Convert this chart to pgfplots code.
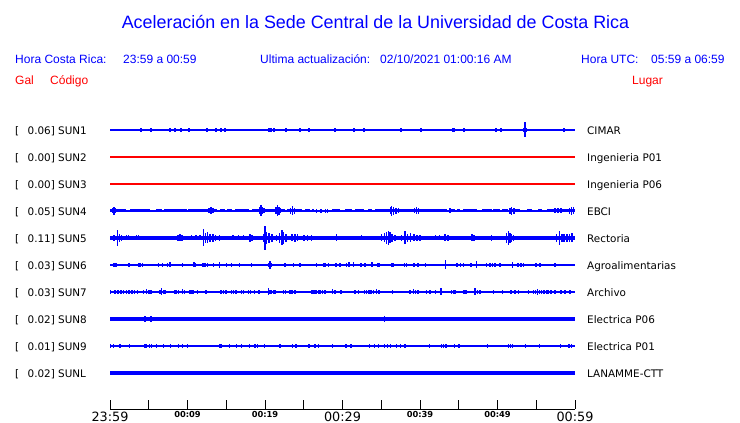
\documentclass[border=0pt]{standalone}
\usepackage{pgfplots}
\usepackage{pgfplotstable}
\pgfplotsset{compat=1.18}
\usepackage{fontspec}
\setmainfont{DejaVu Sans}
\newfontfamily\arial{Liberation Sans}
\definecolor{pblue}{RGB}{0,0,255}
\definecolor{pred}{RGB}{255,0,0}
\newcommand{\tlbig}{\fontsize{12.8}{13}\selectfont}
\newcommand{\tlsm}{\fontsize{8.3}{9}\selectfont\bfseries}

\pgfplotsset{
  spk/.style={draw=none, mark=none, forget plot, error bars/.cd, y dir=both, y explicit, error mark=none, error bar style={draw=pblue, solid, line width=#1}},
  seg/.style={draw=none, mark=none, forget plot, error bars/.cd, x dir=both, x explicit, error mark=none, error bar style={draw=pblue, solid, line width=#1}},
}

% SUN1 spikes: time (min), half amplitude (px)
\pgfplotstableread{
t a
4.0 1.6
5.29 1.6
7.74 1.6
8.39 2.2
9.16 2
10.19 2
12.52 2
13.68 2
14.32 2.2
14.84 2
20.52 2
20.77 2
21.16 2
22.71 2.2
24.52 2
25.68 2
29.03 1.6
31.48 2
32.77 2
37.55 1.6
40.13 2
44.26 2
44.39 2
45.68 2
49.81 2
50.45 2
53.4 2.2
53.55 7.5
53.7 2.2
58.58 2
}\sunAspk

% SUN4 thick segments
\pgfplotstableread{
t0 t1
0 2.03
2.58 5.16
5.9 6.75
7.0 9.9
10.1 13.77
14.19 14.84
15.06 15.78
16.13 17.94
18.28 21.29
21.72 22.58
22.8 24.73
25.16 25.81
26.03 26.36
28.6 29.68
30.32 31.19
31.61 32.77
33.33 33.77
34.19 43.45
43.87 44.52
44.74 45.16
45.59 47.32
47.96 49.25
49.46 50.32
50.54 51.39
51.83 52.9
53.76 54.41
55.26 55.7
56.35 60
}\sunDseg
\pgfplotstableread{
t a
0.4 2.5
0.52 4
0.7 2.5
12.8 2.5
13.03 3.5
13.3 2.5
19.3 3.5
19.48 5.5
19.7 3.5
19.9 2.5
21.4 3.5
21.59 5.5
21.8 4
22.0 2.5
23.3 3
23.53 4.5
23.8 3
26.67 1.8
27.23 1.8
27.83 1.8
28.09 1.8
36.2 3.5
36.35 5
36.6 4
36.9 3
37.2 2.5
39.3 2.5
39.57 3.5
39.8 3
43.87 2.5
51.6 3
51.83 4
52.1 3
57.4 2.5
57.8 2.5
58.2 2.5
59.3 3
59.57 4
59.8 3.5
}\sunDspk

% SUN5 spikes
\pgfplotstableread{
t a
0.5 3
0.94 8
1.2 4
1.5 3
2.1 2.5
2.4 2.5
3.4 2.5
3.7 2.5
5.0 2
6.3 2
7.1 2
7.9 2
8.8 3
9.03 3.5
9.3 3
10.5 2.5
11.1 2.5
11.6 2.5
12.09 8.5
12.3 5
12.6 5.5
12.9 4
13.3 4
13.6 3
14.1 3
15.9 2.5
16.6 2.5
17.2 2.5
18.06 4
18.3 3
19.8 4
20.0 12
20.2 6
20.5 5
20.9 4
21.5 3
21.9 5
22.19 7.5
22.4 6
22.7 4
23.5 3.5
23.87 4
24.2 3.5
25.0 3
25.5 3
26.0 3
29.25 3.5
30.97 2
31.61 2
32.47 2.5
32.9 2
33.98 2
35.05 3.5
35.4 4.5
35.7 6
35.91 7.3
36.1 5.5
36.4 4
36.77 3
37.63 3
38.06 6.5
38.4 4
38.8 4.5
39.2 3.5
39.6 3
40.0 3
42.0 2.5
42.5 2.5
43.23 3.5
43.6 3
44.8 2
46.7 3.5
47.0 3
49.25 3
51.18 5
51.4 6.7
51.6 5
51.8 4
52.04 3
54.0 2
55.4 2
57.63 4
57.98 7
58.3 4
58.6 4
59.0 4
59.3 4
59.6 4.5
}\sunEspk

% SUN6 spikes
\pgfplotstableread{
t a
0.5 1.8
0.8 1.8
2.45 1.8
3.66 1.8
3.9 2
4.17 1.8
6.24 1.8
6.75 1.8
7.44 2
7.78 2.5
9.33 1.8
10.8 2.5
11.05 1.8
11.91 1.8
12.1 1.8
12.34 1.8
12.6 1.8
13.33 1.8
14.15 3
15.01 1.6
15.7 1.6
16.69 1.6
18.28 1.8
20.5 2
20.65 4
20.8 2
22.58 1.8
23.66 1.8
24.52 1.8
26.67 1.8
27.53 2
27.74 2
28.17 1.8
29.16 1.8
29.68 1.6
30.54 2
30.84 2.5
31.4 2.5
32.39 1.6
32.9 1.8
33.77 2.5
34.54 1.8
34.71 1.8
36.35 1.8
36.6 1.8
37.98 2
38.28 2
39.19 1.8
39.78 1.8
40.73 1.8
43.27 4.5
44.81 1.8
45.25 1.8
45.59 2
46.58 1.8
47.31 3.5
48.6 1.8
49.03 2
49.35 2
49.68 2
50.32 1.8
51.91 3
52.68 2
53.0 2
53.33 2
54.93 1.8
55.48 1.8
57.42 1.8
}\sunFspk

% SUN7 spikes
\pgfplotstableread{
t a
0.09 1.8
0.65 2
1.0 2
1.42 2
1.72 1.6
2.15 1.6
2.45 1.8
2.8 1.8
3.14 1.8
3.53 1.6
4.3 1.6
4.73 2.5
5.03 2
5.29 1.8
6.45 2
6.65 3.5
6.88 2
7.1 1.6
8.39 2
8.6 2
8.82 2
9.33 2.5
9.59 2
10.32 1.8
10.55 1.8
10.75 1.8
11.31 1.6
12.39 1.6
14.32 1.6
14.62 1.6
14.97 1.8
15.7 1.8
15.95 1.8
16.22 1.8
16.99 1.8
17.2 1.8
17.85 1.6
18.15 1.8
18.62 1.6
19.23 1.6
20.43 3.5
20.65 2
20.86 2
21.1 2
21.29 1.8
22.41 2
22.67 2
23.23 2
23.5 2
23.87 1.8
26.03 2
26.3 2
26.6 2
26.88 2
27.1 1.8
27.4 1.8
27.74 1.8
28.73 2.5
29.03 2
29.81 1.6
31.61 1.6
32.04 1.6
32.82 1.8
33.1 1.8
33.4 1.8
33.7 1.8
34.0 1.8
34.41 2.5
34.71 1.8
36.43 1.8
38.71 1.6
39.14 2.5
39.4 2
39.78 2
40.86 2
41.29 2
42.02 1.6
42.71 3.5
44.09 1.8
44.3 1.8
44.52 1.8
45.59 1.8
45.8 1.8
46.02 1.8
47.1 3.5
47.4 2
47.74 1.8
49.46 1.6
50.62 1.6
51.74 1.6
52.26 1.6
52.69 1.6
53.98 1.8
54.62 2
54.9 2
55.14 3
55.4 2
55.7 2
56.0 2
56.35 2
56.56 1.8
56.9 1.8
57.42 1.8
58.19 1.6
58.71 1.6
59.35 1.6
}\sunGspk

% SUN8 spikes
\pgfplotstableread{
t a
4.52 2.7
5.29 2.7
35.4 2.7
}\sunHspk

% SUN9 spikes
\pgfplotstableread{
t a
0.09 2
0.43 1.8
1.29 1.8
2.49 1.8
4.52 1.8
4.73 1.8
5.08 1.8
5.38 1.8
6.02 1.8
6.88 2
7.83 1.8
8.82 1.8
9.38 1.8
10.02 1.8
14.11 2
14.32 2
15.4 1.8
16.34 2
16.99 1.8
17.98 1.8
18.71 1.8
19.01 1.8
19.91 1.8
21.94 1.8
23.57 1.8
24.0 1.8
25.68 1.8
26.45 1.8
26.88 1.8
28.73 1.8
30.45 1.8
31.1 1.8
33.46 1.8
34.11 1.8
34.62 1.8
35.4 1.8
35.83 1.8
36.22 1.8
36.99 1.8
37.5 2
38.06 1.8
41.2 1.8
42.8 1.8
43.0 1.8
43.35 1.8
44.43 1.8
45.03 1.8
48.73 1.8
51.4 1.8
51.7 1.8
51.96 1.8
53.64 1.8
55.4 1.8
58.15 1.8
59.23 1.8
59.57 1.8
}\sunIspk

% SUNL spikes
\pgfplotstableread{
t a
9.81 2.3
13.85 2.3
40.95 2.3
}\sunLspk

\begin{document}
\begin{tikzpicture}[x=1pt,y=1pt]
\path (0,0) rectangle (740,423);

% title and header
\node[anchor=base, inner sep=0, text=pblue, font={\arial\fontsize{17.9}{19}\selectfont}] at (375.5,394) {Aceleración en la Sede Central de la Universidad de Costa Rica};
\begin{scope}[every node/.style={anchor=base west, inner sep=0, text=pblue, font={\arial\fontsize{12}{13}\selectfont}}]
\node at (15,359) {Hora Costa Rica:};
\node at (123,359) {23:59 a 00:59};
\node at (260,359) {Ultima actualización:};
\node at (380,359) {02/10/2021 01:00:16 AM};
\node at (581,359) {Hora UTC:};
\node at (651,359) {05:59 a 06:59};
\node[text=pred] at (15,338) {Gal};
\node[text=pred] at (50,338) {Código};
\node[text=pred] at (632,338) {Lugar};
\end{scope}

% station labels
\begin{scope}[every node/.style={anchor=base west, inner sep=0, text=black, font={\fontsize{10.4}{11}\selectfont}}]
\foreach \val/\code/\place [count=\k from 0] in {0.06/SUN1/CIMAR, 0.00/SUN2/Ingenieria P01, 0.00/SUN3/Ingenieria P06, 0.05/SUN4/EBCI, 0.11/SUN5/Rectoria, 0.03/SUN6/Agroalimentarias, 0.03/SUN7/Archivo, 0.02/SUN8/Electrica P06, 0.01/SUN9/Electrica P01, 0.02/SUNL/LANAMME-CTT}{
  \node at (15,{288.5-27*\k}) {[};
  \node at (27.5,{288.5-27*\k}) {\val] \code};
  \node at (587,{288.5-27*\k}) {\place};
}
\end{scope}

\begin{axis}[
  at={(110pt,14pt)}, anchor=south west,
  scale only axis, width=465pt, height=294pt,
  xmin=0, xmax=60, ymin=0, ymax=294,
  axis y line=none, axis x line=bottom,
  x axis line style={-, black, line width=0.9pt},
  xtick={0,5,...,60}, ytick=\empty,
  tick align=inside, major tick length=9pt,
  xtick style={black, line width=0.9pt},
  xticklabels={{\tlbig 23:59},{},{\tlsm 00:09},{},{\tlsm 00:19},{},{\tlbig 00:29},{},{\tlsm 00:39},{},{\tlsm 00:49},{},{\tlbig 00:59}},
  xticklabel style={anchor=north, inner sep=0pt, yshift=-2.5pt, text=black},
  clip=false,
]
% baselines
\addplot[pblue, line width=1.1pt] coordinates {(0,279) (60,279)};
\addplot[pred, line width=1.1pt] coordinates {(0,252) (60,252)};
\addplot[pred, line width=1.1pt] coordinates {(0,225) (60,225)};
\addplot[pblue, line width=1.1pt] coordinates {(0,198) (60,198)};
\addplot[pblue, line width=3.6pt] coordinates {(0,171) (60,171)};
\addplot[pblue, line width=1.1pt] coordinates {(0,144) (60,144)};
\addplot[pblue, line width=1.1pt] coordinates {(0,117) (60,117)};
\addplot[pblue, line width=3.4pt] coordinates {(0,90) (60,90)};
\addplot[pblue, line width=1.1pt] coordinates {(0,63) (60,63)};
\addplot[pblue, line width=3.4pt] coordinates {(0,36) (60,36)};
% SUN1
\addplot[spk=1.3pt] table[x=t, y expr=279, y error=a] {\sunAspk};
% SUN4
\addplot[seg=3pt] table[x expr={(\thisrow{t0}+\thisrow{t1})/2}, y expr=198, x error expr={(\thisrow{t1}-\thisrow{t0})/2}] {\sunDseg};
\addplot[spk=1.5pt] table[x=t, y expr=198, y error=a] {\sunDspk};
% SUN5
\addplot[spk=1.5pt] table[x=t, y expr=171, y error=a] {\sunEspk};
% SUN6
\addplot[spk=1.6pt] table[x=t, y expr=144, y error=a] {\sunFspk};
% SUN7
\addplot[spk=1.6pt] table[x=t, y expr=117, y error=a] {\sunGspk};
% SUN8
\addplot[spk=1.1pt] table[x=t, y expr=90, y error=a] {\sunHspk};
% SUN9
\addplot[spk=1.1pt] table[x=t, y expr=63, y error=a] {\sunIspk};
% SUNL
\addplot[spk=1.1pt] table[x=t, y expr=36, y error=a] {\sunLspk};
\end{axis}

\pgfresetboundingbox
\path[use as bounding box] (0,0) rectangle (740,423);
\end{tikzpicture}
\end{document}
